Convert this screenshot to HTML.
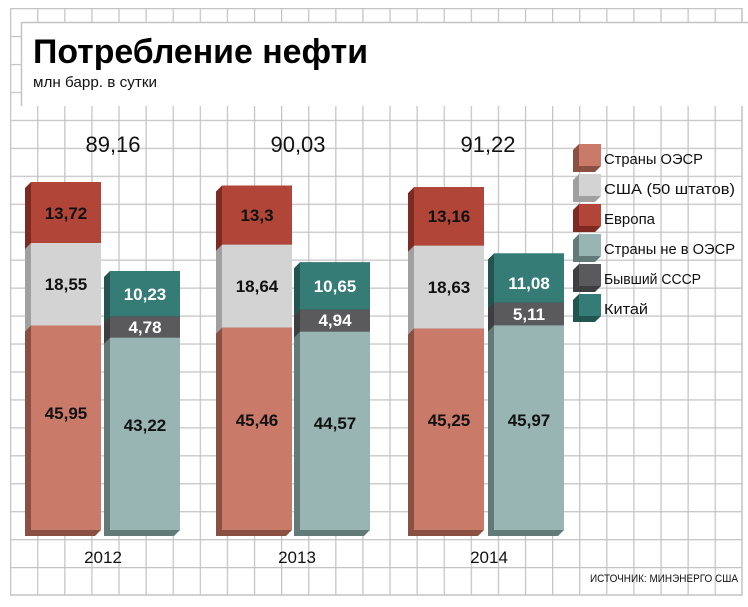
<!DOCTYPE html>
<html><head><meta charset="utf-8"><style>
html,body{margin:0;padding:0;background:#fff}
svg{display:block}
text{font-family:"Liberation Sans",sans-serif}
.v{font-weight:bold;font-size:17px;text-anchor:middle;fill:#111}
.w{fill:#fff}
.lg{font-size:15px;fill:#111}
</style></head><body>
<svg width="748" height="607" viewBox="0 0 748 607" xmlns="http://www.w3.org/2000/svg">
<defs>
<pattern id="g" x="10" y="8" width="27.1" height="27.95" patternUnits="userSpaceOnUse">
<path d="M0.5 0V27.95M0 0.5H27.1" stroke="#c4c4c4" stroke-width="1.5" fill="none"/>
</pattern>
</defs>
<rect x="10" y="8" width="732" height="587" fill="url(#g)"/>
<path d="M742 8V595H10" stroke="#c4c4c4" stroke-width="1.5" fill="none"/>
<rect x="22" y="22" width="726" height="84" fill="#fff"/>
<path d="M21.5 22V106" stroke="#c4c4c4" stroke-width="1.5"/>
<path d="M22 22.5H748" stroke="#c4c4c4" stroke-width="1.5"/>
<text x="33" y="63" style="font-weight:bold;font-size:34px" fill="#000" textLength="335" lengthAdjust="spacingAndGlyphs">Потребление нефти</text>
<text x="33" y="87" style="font-size:15px" fill="#111" textLength="124" lengthAdjust="spacingAndGlyphs">млн барр. в сутки</text>

<g font-size="22" text-anchor="middle" fill="#111">
<text x="113" y="152">89,16</text><text x="298" y="152">90,03</text><text x="488" y="152">91,22</text>
</g>
<g font-size="17" text-anchor="middle" fill="#111">
<text x="103" y="563">2012</text><text x="297" y="563">2013</text><text x="489" y="563">2014</text>
</g>

<polygon points="25,188 31,182 101,182 101,243 95,249 25,249" fill="#7c2a22"/>
<rect x="31" y="182" width="70" height="61" fill="#b04538"/>
<polygon points="25,249 31,243 101,243 101,325.5 95,331.5 25,331.5" fill="#a0a0a0"/>
<rect x="31" y="243" width="70" height="82.5" fill="#d3d3d3"/>
<polygon points="25,331.5 31,325.5 101,325.5 101,530 95,536 25,536" fill="#8a5143"/>
<rect x="31" y="325.5" width="70" height="204.5" fill="#c97a69"/>
<polygon points="104,277 110,271 180,271 180,316.4 174,322.4 104,322.4" fill="#225550"/>
<rect x="110" y="271" width="70" height="45.4" fill="#357b76"/>
<polygon points="104,322.4 110,316.4 180,316.4 180,337.7 174,343.7 104,343.7" fill="#3e3e40"/>
<rect x="110" y="316.4" width="70" height="21.3" fill="#5a5a5c"/>
<polygon points="104,343.7 110,337.7 180,337.7 180,530 174,536 104,536" fill="#627a78"/>
<rect x="110" y="337.7" width="70" height="192.3" fill="#98b5b3"/>

<polygon points="216,191.5 222,185.5 292,185.5 292,244.7 286,250.7 216,250.7" fill="#7c2a22"/>
<rect x="222" y="185.5" width="70" height="59.2" fill="#b04538"/>
<polygon points="216,250.7 222,244.7 292,244.7 292,327.7 286,333.7 216,333.7" fill="#a0a0a0"/>
<rect x="222" y="244.7" width="70" height="83" fill="#d3d3d3"/>
<polygon points="216,333.7 222,327.7 292,327.7 292,530 286,536 216,536" fill="#8a5143"/>
<rect x="222" y="327.7" width="70" height="202.3" fill="#c97a69"/>
<polygon points="294,268.3 300,262.3 370,262.3 370,309.7 364,315.7 294,315.7" fill="#225550"/>
<rect x="300" y="262.3" width="70" height="47.4" fill="#357b76"/>
<polygon points="294,315.7 300,309.7 370,309.7 370,331.7 364,337.7 294,337.7" fill="#3e3e40"/>
<rect x="300" y="309.7" width="70" height="22" fill="#5a5a5c"/>
<polygon points="294,337.7 300,331.7 370,331.7 370,530 364,536 294,536" fill="#627a78"/>
<rect x="300" y="331.7" width="70" height="198.3" fill="#98b5b3"/>

<polygon points="408,193.1 414,187.1 484,187.1 484,245.7 478,251.7 408,251.7" fill="#7c2a22"/>
<rect x="414" y="187.1" width="70" height="58.6" fill="#b04538"/>
<polygon points="408,251.7 414,245.7 484,245.7 484,328.6 478,334.6 408,334.6" fill="#a0a0a0"/>
<rect x="414" y="245.7" width="70" height="82.9" fill="#d3d3d3"/>
<polygon points="408,334.6 414,328.6 484,328.6 484,530 478,536 408,536" fill="#8a5143"/>
<rect x="414" y="328.6" width="70" height="201.4" fill="#c97a69"/>
<polygon points="488,259.4 494,253.4 564,253.4 564,302.7 558,308.7 488,308.7" fill="#225550"/>
<rect x="494" y="253.4" width="70" height="49.3" fill="#357b76"/>
<polygon points="488,308.7 494,302.7 564,302.7 564,325.4 558,331.4 488,331.4" fill="#3e3e40"/>
<rect x="494" y="302.7" width="70" height="22.7" fill="#5a5a5c"/>
<polygon points="488,331.4 494,325.4 564,325.4 564,530 558,536 488,536" fill="#627a78"/>
<rect x="494" y="325.4" width="70" height="204.6" fill="#98b5b3"/>

<text class="v" x="66" y="219">13,72</text>
<text class="v" x="66" y="290">18,55</text>
<text class="v" x="66" y="419">45,95</text>
<text class="v w" x="145" y="300">10,23</text>
<text class="v w" x="145" y="333">4,78</text>
<text class="v" x="145" y="431">43,22</text>

<text class="v" x="257" y="221">13,3</text>
<text class="v" x="257" y="292">18,64</text>
<text class="v" x="257" y="426">45,46</text>
<text class="v w" x="335" y="292">10,65</text>
<text class="v w" x="335" y="326">4,94</text>
<text class="v" x="335" y="429">44,57</text>

<text class="v" x="449" y="222">13,16</text>
<text class="v" x="449" y="293">18,63</text>
<text class="v" x="449" y="426">45,25</text>
<text class="v w" x="529" y="289">11,08</text>
<text class="v w" x="529" y="320">5,11</text>
<text class="v" x="529" y="426">45,97</text>

<g>
<polygon points="573,150 579,144 601,144 601,166 595,172 573,172" fill="#8a5143"/><rect x="579" y="144" width="22" height="22" fill="#c97a69"/>
<polygon points="573,180 579,174 601,174 601,196 595,202 573,202" fill="#a0a0a0"/><rect x="579" y="174" width="22" height="22" fill="#d3d3d3"/>
<polygon points="573,210 579,204 601,204 601,226 595,232 573,232" fill="#7c2a22"/><rect x="579" y="204" width="22" height="22" fill="#b04538"/>
<polygon points="573,240 579,234 601,234 601,256 595,262 573,262" fill="#627a78"/><rect x="579" y="234" width="22" height="22" fill="#98b5b3"/>
<polygon points="573,270 579,264 601,264 601,286 595,292 573,292" fill="#3e3e40"/><rect x="579" y="264" width="22" height="22" fill="#5a5a5c"/>
<polygon points="573,300 579,294 601,294 601,316 595,322 573,322" fill="#225550"/><rect x="579" y="294" width="22" height="22" fill="#357b76"/>
</g>
<text class="lg" x="604" y="164" textLength="99" lengthAdjust="spacingAndGlyphs">Страны ОЭСР</text>
<text class="lg" x="604" y="194" textLength="131" lengthAdjust="spacingAndGlyphs">США (50 штатов)</text>
<text class="lg" x="604" y="224" textLength="51" lengthAdjust="spacingAndGlyphs">Европа</text>
<text class="lg" x="604" y="254" textLength="131" lengthAdjust="spacingAndGlyphs">Страны не в ОЭСР</text>
<text class="lg" x="604" y="284" textLength="97" lengthAdjust="spacingAndGlyphs">Бывший СССР</text>
<text class="lg" x="604" y="314" textLength="44" lengthAdjust="spacingAndGlyphs">Китай</text>
<text x="590" y="582" font-size="11" fill="#111" textLength="148" lengthAdjust="spacingAndGlyphs">ИСТОЧНИК: МИНЭНЕРГО США</text>
</svg>
</body></html>
